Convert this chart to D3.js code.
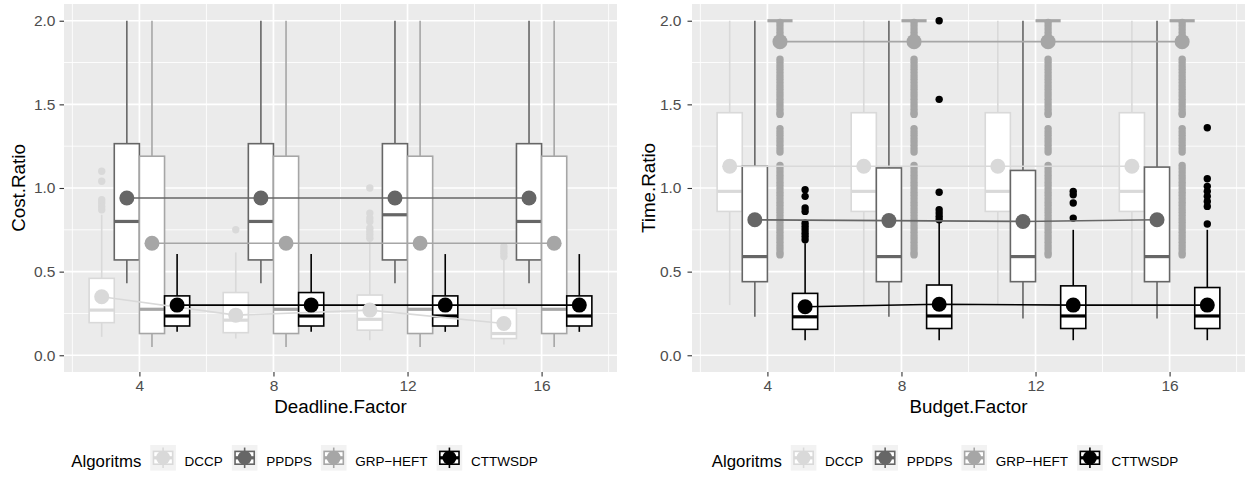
<!DOCTYPE html>
<html><head><meta charset="utf-8">
<script src="https://cdn.jsdelivr.net/npm/d3@7/dist/d3.min.js"></script>
<style>
body{margin:0;background:#fff}
svg{display:block}
text{font-family:"Liberation Sans",Arial,Helvetica,sans-serif}
</style>
</head><body>
<svg id="chart" width="1249" height="479"></svg>
<script>
// ---------------- DATA ----------------
const factors = [4, 8, 12, 16];
const algorithms = ["DCCP", "PPDPS", "GRP-HEFT", "CTTWSDP"];
const yTicks = [0, 0.5, 1, 1.5, 2];
const yTickLabels = ["0.0", "0.5", "1.0", "1.5", "2.0"];
const xTickLabels = ["4", "8", "12", "16"];

// Cost.Ratio vs Deadline.Factor  (rows = algorithm, columns = factor)
const costLower  = [[0.11, 0.10, 0.09, 0.065], [0.43, 0.43, 0.43, 0.43], [0.05, 0.05, 0.05, 0.05], [0.14, 0.14, 0.14, 0.14]];
const costQ1     = [[0.195, 0.135, 0.15, 0.10], [0.57, 0.57, 0.57, 0.57], [0.13, 0.13, 0.13, 0.13], [0.175, 0.175, 0.175, 0.175]];
const costMedian = [[0.27, 0.21, 0.215, 0.13], [0.80, 0.80, 0.84, 0.80], [0.275, 0.275, 0.275, 0.275], [0.235, 0.235, 0.235, 0.235]];
const costQ3     = [[0.46, 0.375, 0.36, 0.28], [1.265, 1.265, 1.265, 1.265], [1.19, 1.19, 1.19, 1.19], [0.355, 0.375, 0.355, 0.355]];
const costUpper  = [[0.84, 0.615, 0.68, 0.57], [2.0, 2.0, 2.0, 2.0], [2.0, 2.0, 2.0, 2.0], [0.605, 0.605, 0.605, 0.605]];
const costMean   = [[0.35, 0.24, 0.27, 0.19], [0.94, 0.94, 0.94, 0.94], [0.67, 0.67, 0.67, 0.67], [0.30, 0.30, 0.30, 0.30]];
const costOutliers = [
  [[0.87, 0.89, 0.91, 0.93, 1.04, 1.10], [0.75], [0.70, 0.72, 0.74, 0.76, 0.80, 0.82, 0.85, 1.00], [0.59, 0.61, 0.63, 0.65]],
  [[], [], [], []],
  [[], [], [], []],
  [[], [], [], []]
];

// Time.Ratio vs Budget.Factor
const timeLower  = [[0.30, 0.30, 0.30, 0.30], [0.23, 0.23, 0.22, 0.22], [2.0, 2.0, 2.0, 2.0], [0.09, 0.09, 0.09, 0.09]];
const timeQ1     = [[0.86, 0.86, 0.86, 0.86], [0.44, 0.44, 0.44, 0.44], [2.0, 2.0, 2.0, 2.0], [0.155, 0.16, 0.16, 0.16]];
const timeMedian = [[0.98, 0.98, 0.98, 0.98], [0.59, 0.59, 0.59, 0.59], [2.0, 2.0, 2.0, 2.0], [0.23, 0.235, 0.235, 0.235]];
const timeQ3     = [[1.45, 1.45, 1.45, 1.45], [1.13, 1.12, 1.105, 1.125], [2.0, 2.0, 2.0, 2.0], [0.37, 0.42, 0.415, 0.405]];
const timeUpper  = [[2.0, 2.0, 2.0, 2.0], [2.0, 2.0, 2.0, 2.0], [2.0, 2.0, 2.0, 2.0], [0.67, 0.80, 0.75, 0.75]];
const timeMean   = [[1.13, 1.13, 1.13, 1.13], [0.81, 0.805, 0.80, 0.81], [1.875, 1.875, 1.875, 1.875], [0.29, 0.305, 0.30, 0.30]];
const grpTimeOutliers = [1.99, 1.97, 1.95, 1.93, 1.91, 1.89, 1.87,
  1.77, 1.75, 1.73, 1.71, 1.69, 1.67, 1.65, 1.63, 1.61, 1.59, 1.57, 1.55, 1.53, 1.51, 1.49, 1.47, 1.45, 1.44,
  1.355, 1.335, 1.315, 1.295, 1.275, 1.255, 1.235, 1.215,
  1.135, 1.115, 1.095, 1.075, 1.055, 1.035, 1.015, 0.995, 0.975, 0.955, 0.935, 0.915, 0.895, 0.875, 0.855, 0.835,
  0.815, 0.795, 0.775, 0.755, 0.735, 0.715, 0.695, 0.675, 0.655, 0.635, 0.615, 0.60];
const timeOutliers = [
  [[], [], [], []],
  [[], [], [], []],
  [grpTimeOutliers, grpTimeOutliers, grpTimeOutliers, grpTimeOutliers],
  [[0.69, 0.71, 0.73, 0.75, 0.77, 0.79, 0.86, 0.88, 0.95, 0.99],
   [0.81, 0.83, 0.85, 0.87, 0.975, 1.53, 2.0],
   [0.82, 0.91, 0.96, 0.98],
   [0.785, 0.89, 0.92, 0.95, 0.98, 1.01, 1.055, 1.36]]
];

const palette = ["#D9D9D9", "#666666", "#A6A6A6", "#000000"];

// ---------------- DRAW ----------------
const svg = d3.select("#chart");
const FONT = '"Liberation Sans", Arial, Helvetica, sans-serif';

const panels = [
  {left: 64, xTitle: "Deadline.Factor", yTitle: "Cost.Ratio", yTitleX: 25, labelGap: 8,
   lower: costLower, q1: costQ1, med: costMedian, q3: costQ3, upper: costUpper, mean: costMean, out: costOutliers,
   legendCx: 304.5},
  {left: 692, xTitle: "Budget.Factor", yTitle: "Time.Ratio", yTitleX: 655, labelGap: 10,
   lower: timeLower, q1: timeQ1, med: timeMedian, q3: timeQ3, upper: timeUpper, mean: timeMean, out: timeOutliers,
   legendCx: 945}
];

const PW = 553, TOP = 4, BOTTOM = 372;
const dodge = 0.75;

panels.forEach(p => {
  const x = d3.scaleLinear().domain([1.75, 18.25]).range([p.left, p.left + PW]);
  const y = d3.scaleLinear().domain([-0.1, 2.1]).range([BOTTOM, TOP]);
  const g = svg.append("g");

  g.append("rect").attr("x", p.left).attr("y", TOP).attr("width", PW).attr("height", BOTTOM - TOP).attr("fill", "#EBEBEB");

  const yMinor = [0.25, 0.75, 1.25, 1.75];
  const xMinor = [2, 6, 10, 14, 18];
  g.selectAll(".ymin").data(yMinor).enter().append("line")
    .attr("x1", p.left).attr("x2", p.left + PW).attr("y1", d => y(d)).attr("y2", d => y(d))
    .attr("stroke", "#fff").attr("stroke-width", 0.85);
  g.selectAll(".xmin").data(xMinor).enter().append("line")
    .attr("y1", TOP).attr("y2", BOTTOM).attr("x1", d => x(d)).attr("x2", d => x(d))
    .attr("stroke", "#fff").attr("stroke-width", 0.85);
  g.selectAll(".ymaj").data(yTicks).enter().append("line")
    .attr("x1", p.left).attr("x2", p.left + PW).attr("y1", d => y(d)).attr("y2", d => y(d))
    .attr("stroke", "#fff").attr("stroke-width", 1.7);
  g.selectAll(".xmaj").data(factors).enter().append("line")
    .attr("y1", TOP).attr("y2", BOTTOM).attr("x1", d => x(d)).attr("x2", d => x(d))
    .attr("stroke", "#fff").attr("stroke-width", 1.7);

  const yAxis = d3.axisLeft(y).tickValues(yTicks).tickFormat((d, i) => yTickLabels[i]).tickSize(4.5).tickPadding(p.labelGap - 4.5 + 0.5);
  const ya = g.append("g").attr("transform", `translate(${p.left},0)`).call(yAxis);
  ya.select(".domain").remove();
  ya.selectAll("line").attr("stroke", "#333333").attr("stroke-width", 1.1);
  ya.selectAll("text").attr("fill", "#4D4D4D").style("font-size", "15.5px").style("font-family", FONT);

  const xAxis = d3.axisBottom(x).tickValues(factors).tickFormat((d, i) => xTickLabels[i]).tickSize(4.5).tickPadding(3);
  const xa = g.append("g").attr("transform", `translate(0,${BOTTOM})`).call(xAxis);
  xa.select(".domain").remove();
  xa.selectAll("line").attr("stroke", "#333333").attr("stroke-width", 1.1);
  xa.selectAll("text").attr("fill", "#4D4D4D").style("font-size", "15.5px").style("font-family", FONT);

  g.append("text").attr("x", p.left + PW / 2).attr("y", 412.7).attr("text-anchor", "middle")
    .style("font-size", "18.8px").attr("fill", "#000").text(p.xTitle);
  g.append("text").attr("transform", `translate(${p.yTitleX},${(TOP + BOTTOM) / 2}) rotate(-90)`)
    .attr("text-anchor", "middle").style("font-size", "18.8px").attr("fill", "#000").text(p.yTitle);

  const clipId = "clip" + p.left;
  svg.append("clipPath").attr("id", clipId).append("rect")
    .attr("x", p.left).attr("y", TOP).attr("width", PW).attr("height", BOTTOM - TOP);
  const pg = g.append("g").attr("clip-path", `url(#${clipId})`);

  const halfW = (x(dodge / 2) - x(0));
  const cxOf = (fi, ai) => x(factors[fi] + (ai - 1.5) * dodge);

  factors.forEach((f, fi) => {
    algorithms.forEach((a, ai) => {
      const col = palette[ai];
      const cx = cxOf(fi, ai);
      const bg = pg.append("g");
      bg.selectAll("circle").data(p.out[ai][fi]).enter().append("circle")
        .attr("cx", cx).attr("cy", d => y(d)).attr("r", 3.7).attr("fill", col);
      bg.append("line").attr("x1", cx).attr("x2", cx).attr("y1", y(p.q3[ai][fi])).attr("y2", y(p.upper[ai][fi]))
        .attr("stroke", col).attr("stroke-width", 1.6);
      bg.append("line").attr("x1", cx).attr("x2", cx).attr("y1", y(p.q1[ai][fi])).attr("y2", y(p.lower[ai][fi]))
        .attr("stroke", col).attr("stroke-width", 1.6);
      bg.append("rect").attr("x", cx - halfW).attr("width", 2 * halfW)
        .attr("y", y(p.q3[ai][fi])).attr("height", Math.max(0, y(p.q1[ai][fi]) - y(p.q3[ai][fi])))
        .attr("fill", "#fff").attr("stroke", col).attr("stroke-width", 1.6);
      bg.append("line").attr("x1", cx - halfW).attr("x2", cx + halfW).attr("y1", y(p.med[ai][fi])).attr("y2", y(p.med[ai][fi]))
        .attr("stroke", col).attr("stroke-width", 3.2);
    });
  });

  const line = d3.line().x(d => d[0]).y(d => d[1]);
  algorithms.forEach((a, ai) => {
    const pts = factors.map((f, fi) => [cxOf(fi, ai), y(p.mean[ai][fi])]);
    pg.append("path").attr("d", line(pts)).attr("fill", "none").attr("stroke", palette[ai]).attr("stroke-width", 1.6);
  });
  algorithms.forEach((a, ai) => {
    factors.forEach((f, fi) => {
      pg.append("circle").attr("cx", cxOf(fi, ai)).attr("cy", y(p.mean[ai][fi])).attr("r", 7.5).attr("fill", palette[ai]);
    });
  });

  // legend
  const lg = svg.append("g");
  const KEY = 25.6, GAP = 9;
  let cur = 0;
  const t = lg.append("text").attr("x", cur).attr("y", 466.5).style("font-size", "16.8px").attr("fill", "#000").text("Algoritms");
  cur += t.node().getComputedTextLength() + GAP;
  const keyTop = 445;
  algorithms.forEach((a, ai) => {
    const col = palette[ai];
    const kg = lg.append("g").attr("transform", `translate(${cur},${keyTop})`);
    kg.append("rect").attr("width", KEY).attr("height", KEY).attr("fill", "#F2F2F2");
    kg.append("line").attr("x1", KEY / 2).attr("x2", KEY / 2).attr("y1", KEY * 0.1).attr("y2", KEY * 0.9)
      .attr("stroke", col).attr("stroke-width", 1.6);
    kg.append("rect").attr("x", KEY * 0.125).attr("y", KEY * 0.25).attr("width", KEY * 0.75).attr("height", KEY * 0.5)
      .attr("fill", "#fff").attr("stroke", col).attr("stroke-width", 1.6);
    kg.append("line").attr("x1", KEY * 0.125).attr("x2", KEY * 0.875).attr("y1", KEY / 2).attr("y2", KEY / 2)
      .attr("stroke", col).attr("stroke-width", 3.2);
    kg.append("circle").attr("cx", KEY / 2).attr("cy", KEY / 2).attr("r", 7).attr("fill", col);
    cur += KEY + 8.7;
    const lt = lg.append("text").attr("x", cur).attr("y", 466.2).style("font-size", "13.5px").attr("fill", "#000").text(a.replace("-", "\u2212"));
    cur += lt.node().getComputedTextLength() + (ai < 3 ? GAP : 0);
  });
  lg.attr("transform", `translate(${p.legendCx - cur / 2},0)`);
});
</script>
</body></html>
